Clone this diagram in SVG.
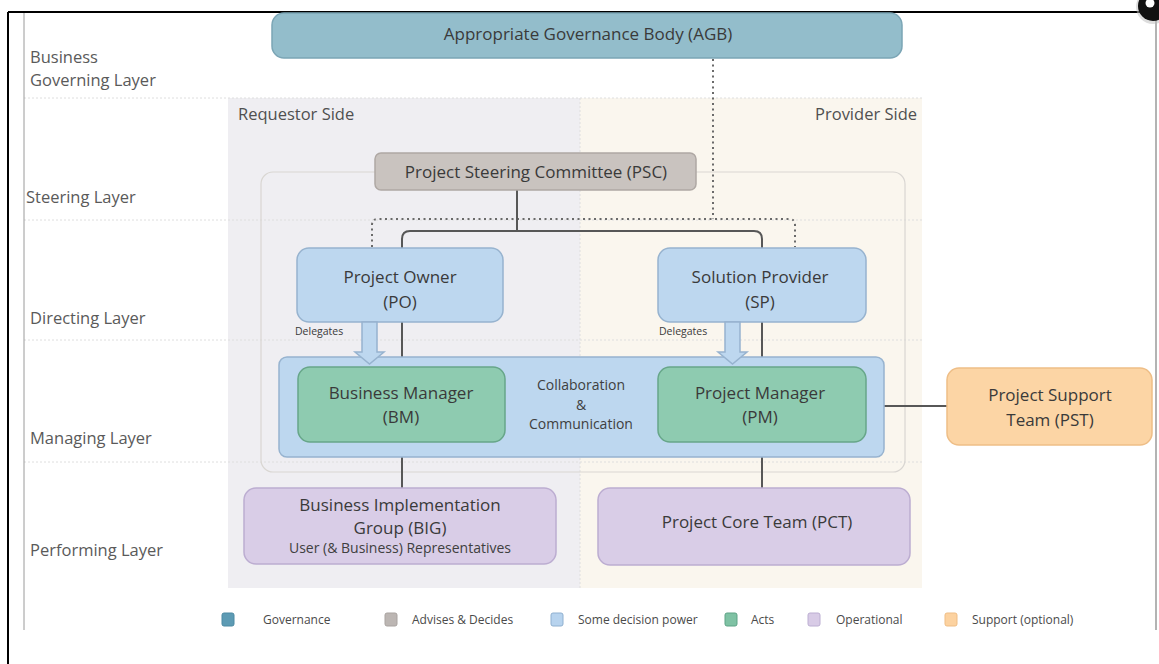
<svg xmlns="http://www.w3.org/2000/svg" width="1159" height="664" viewBox="0 0 1159 664">
<style>
text{font-family:"Open Sans","Liberation Sans",sans-serif;fill:#454545}
.lay{font-size:16.5px;fill:#5a5a5a}
.side{font-size:16.5px;fill:#505050}
.nt{font-size:17px;text-anchor:middle;fill:#3a3a3a}
.sm{font-size:14px;text-anchor:middle;fill:#404040}
.dl{font-size:10.5px;fill:#3a3a3a}
.lg{font-size:12px;fill:#4a4a4a}
.sep{stroke:#dedede;stroke-width:1;stroke-dasharray:2 2;fill:none}
.blue{fill:#bdd7ef;stroke:#97b3cf;stroke-width:1.5}
.green{fill:#8ecbb0;stroke:#67a689;stroke-width:1.5}
.purple{fill:#d9cde7;stroke:#bcadd1;stroke-width:1.5}
.orange{fill:#fcd5a5;stroke:#eebe87;stroke-width:1.5}
.gov{fill:#93bdcb;stroke:#7ba5b5;stroke-width:1.5}
.grey{fill:#c9c3bf;stroke:#afa8a4;stroke-width:1.5}
.ln{stroke:#575757;stroke-width:2;fill:none}
.dot{stroke:#6a6a6a;stroke-width:2;stroke-dasharray:2 3.5;fill:none}
</style>
<rect width="1159" height="664" fill="#fff"/>
<!-- regions -->
<rect x="228" y="98" width="352" height="490" fill="#efeef2"/>
<rect x="580" y="98" width="342" height="490" fill="#faf6ee"/>
<line x1="580" y1="98" x2="580" y2="588" class="sep"/>
<line x1="24" y1="98" x2="922" y2="98" class="sep"/>
<line x1="24" y1="220" x2="922" y2="220" class="sep"/>
<line x1="24" y1="340" x2="922" y2="340" class="sep"/>
<line x1="24" y1="462" x2="922" y2="462" class="sep"/>
<rect x="261" y="172" width="644" height="300" rx="12" fill="none" stroke="#d9d6d2" stroke-width="1.2"/>
<!-- frame -->
<line x1="24" y1="12" x2="24" y2="630" stroke="#9a9a9a" stroke-width="1"/>
<line x1="1156" y1="14" x2="1156" y2="630" stroke="#9a9a9a" stroke-width="1.5"/>
<line x1="8" y1="12" x2="1159" y2="12" stroke="#000" stroke-width="2"/>
<line x1="8" y1="12" x2="8" y2="664" stroke="#000" stroke-width="2"/>
<circle cx="1153" cy="7" r="17" fill="#bbb" opacity="0.5"/>
<circle cx="1153" cy="6" r="15" fill="#111"/>
<circle cx="1150" cy="3" r="4.5" fill="#fff"/>
<!-- layer labels -->
<text class="lay" x="30" y="63">Business</text>
<text class="lay" x="30" y="86">Governing Layer</text>
<text class="lay" x="26" y="203">Steering Layer</text>
<text class="lay" x="30" y="324">Directing Layer</text>
<text class="lay" x="30" y="444">Managing Layer</text>
<text class="lay" x="30" y="556">Performing Layer</text>
<text class="side" x="238" y="120">Requestor Side</text>
<text class="side" x="917" y="120" text-anchor="end">Provider Side</text>
<!-- connectors -->
<g id="connectors">
<path class="dot" d="M713,59 V219"/>
<path class="dot" d="M372,247 V225 Q372,219 378,219 H789 Q795,219 795,225 V247"/>
<path class="ln" d="M517,190 V231"/>
<path class="ln" d="M402,248 V239 Q402,231 410,231 H754 Q762,231 762,239 V248"/>
<path class="ln" d="M402,322 V367"/>
<path class="ln" d="M762,322 V367"/>
<path class="ln" d="M402,442 V488"/>
<path class="ln" d="M762,442 V488"/>
<path class="ln" d="M884,406 H947"/>
</g>
<g id="AGB">
<rect class="gov" x="272" y="13" width="630" height="45" rx="12"/>
<text class="nt" x="588" y="40">Appropriate Governance Body (AGB)</text>
</g>
<g id="PSC">
<rect class="grey" x="375" y="153" width="321" height="37" rx="6"/>
<text class="nt" x="536" y="178">Project Steering Committee (PSC)</text>
</g>
<g id="PO">
<rect class="blue" x="297" y="248" width="206" height="74" rx="12"/>
<text class="nt" x="400" y="283">Project Owner</text>
<text class="nt" x="400" y="308">(PO)</text>
</g>
<g id="SP">
<rect class="blue" x="658" y="248" width="208" height="74" rx="12"/>
<text class="nt" x="760" y="283">Solution Provider</text>
<text class="nt" x="760" y="308">(SP)</text>
</g>
<g id="MGMT">
<rect class="blue" x="279" y="357" width="605" height="100" rx="8"/>
<text class="sm" x="581" y="390">Collaboration</text>
<text class="sm" x="581" y="410">&amp;</text>
<text class="sm" x="581" y="429">Communication</text>
</g>
<g id="DEL1">
<path class="blue" d="M362,322 H377 V352 H384 L369.5,364 L355,352 H362 Z"/>
<text class="dl" x="295" y="335">Delegates</text>
</g>
<g id="DEL2">
<path class="blue" d="M725,322 H740 V352 H747 L732.5,364 L718,352 H725 Z"/>
<text class="dl" x="659" y="335">Delegates</text>
</g>
<g id="BM">
<rect class="green" x="298" y="367" width="207" height="75" rx="12"/>
<text class="nt" x="401" y="399">Business Manager</text>
<text class="nt" x="401" y="423">(BM)</text>
</g>
<g id="PM">
<rect class="green" x="658" y="367" width="208" height="75" rx="12"/>
<text class="nt" x="760" y="399">Project Manager</text>
<text class="nt" x="760" y="423">(PM)</text>
</g>
<g id="PST">
<rect class="orange" x="947" y="368" width="205" height="77" rx="12"/>
<text class="nt" x="1050" y="401">Project Support</text>
<text class="nt" x="1050" y="426">Team (PST)</text>
</g>
<g id="BIG">
<rect class="purple" x="244" y="488" width="312" height="76" rx="12"/>
<text class="nt" x="400" y="511">Business Implementation</text>
<text class="nt" x="400" y="534">Group (BIG)</text>
<text class="sm" x="400" y="553">User (&amp; Business) Representatives</text>
</g>
<g id="PCT">
<rect class="purple" x="598" y="488" width="312" height="77" rx="12"/>
<text class="nt" x="757" y="528">Project Core Team (PCT)</text>
</g>
<g id="legend">
<rect x="222" y="613" width="12" height="13" rx="2" fill="#5d9bb4" stroke="#4d8aa3"/>
<text class="lg" x="263" y="624">Governance</text>
<rect x="385" y="613" width="12" height="13" rx="2" fill="#bcb6b3" stroke="#a9a3a0"/>
<text class="lg" x="412" y="624">Advises &amp; Decides</text>
<rect x="551" y="613" width="12" height="13" rx="2" fill="#b7d3ee" stroke="#8fb0d0"/>
<text class="lg" x="578" y="624">Some decision power</text>
<rect x="725" y="613" width="12" height="13" rx="2" fill="#7fc2a4" stroke="#5fa386"/>
<text class="lg" x="751" y="624">Acts</text>
<rect x="808" y="613" width="12" height="13" rx="2" fill="#d8cbe6" stroke="#bcaed2"/>
<text class="lg" x="836" y="624">Operational</text>
<rect x="945" y="613" width="12" height="13" rx="2" fill="#fcd2a0" stroke="#efbd85"/>
<text class="lg" x="972" y="624">Support (optional)</text>
</g>
</svg>
